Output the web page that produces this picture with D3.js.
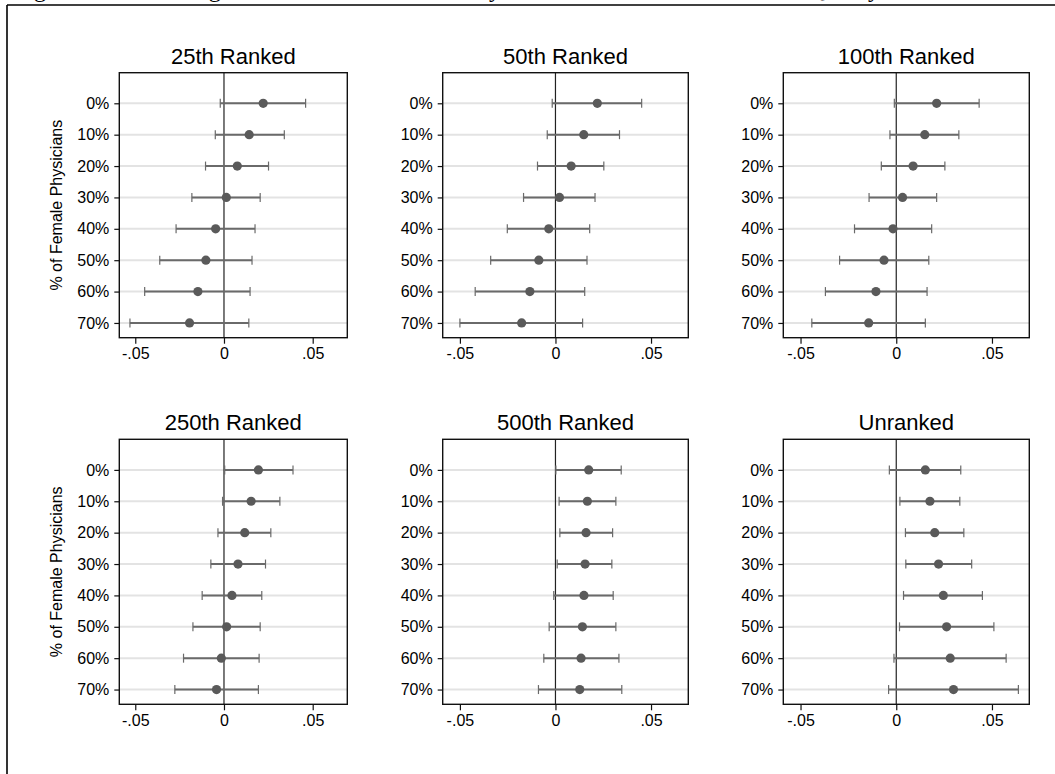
<!DOCTYPE html>
<html>
<head>
<meta charset="utf-8">
<script src="https://cdn.jsdelivr.net/npm/d3@7"></script>
<style>
html,body{margin:0;padding:0;background:#fff;}
svg{display:block;}
</style>
</head>
<body>
<svg id="chart" width="1055" height="774"></svg>
<script>
// ---- data ----
const categories = ["0%", "10%", "20%", "30%", "40%", "50%", "60%", "70%"];
const panelTitles = ["25th Ranked", "50th Ranked", "100th Ranked", "250th Ranked", "500th Ranked", "Unranked"];
const xTickValues = [-0.05, 0, 0.05];
const xTickLabels = ["-.05", "0", ".05"];
const yAxisTitle = "% of Female Physicians";

const est25  = [0.0221, 0.0142, 0.0075, 0.0013, -0.0047, -0.0102, -0.0147, -0.0194];
const lo25   = [-0.0021, -0.0049, -0.0104, -0.0181, -0.0270, -0.0362, -0.0447, -0.0530];
const hi25   = [0.0460, 0.0340, 0.0251, 0.0204, 0.0175, 0.0158, 0.0147, 0.0140];

const est50  = [0.0219, 0.0148, 0.0082, 0.0021, -0.0035, -0.0087, -0.0134, -0.0177];
const lo50   = [-0.0017, -0.0043, -0.0094, -0.0167, -0.0252, -0.0339, -0.0420, -0.0500];
const hi50   = [0.0451, 0.0335, 0.0253, 0.0207, 0.0179, 0.0165, 0.0153, 0.0142];

const est100 = [0.0211, 0.0149, 0.0088, 0.0033, -0.0017, -0.0064, -0.0106, -0.0144];
const lo100  = [-0.0010, -0.0033, -0.0078, -0.0142, -0.0218, -0.0296, -0.0370, -0.0441];
const hi100  = [0.0433, 0.0327, 0.0254, 0.0211, 0.0185, 0.0170, 0.0161, 0.0152];

const est250 = [0.0194, 0.0153, 0.0117, 0.0079, 0.0045, 0.0015, -0.0015, -0.0042];
const lo250  = [0.0004, -0.0008, -0.0034, -0.0074, -0.0123, -0.0175, -0.0228, -0.0277];
const hi250  = [0.0389, 0.0315, 0.0264, 0.0234, 0.0213, 0.0204, 0.0198, 0.0194];

const est500 = [0.0174, 0.0167, 0.0160, 0.0155, 0.0149, 0.0141, 0.0134, 0.0127];
const lo500  = [0.0002, 0.0019, 0.0023, 0.0009, -0.0009, -0.0033, -0.0061, -0.0089];
const hi500  = [0.0344, 0.0316, 0.0299, 0.0295, 0.0302, 0.0316, 0.0332, 0.0347];

const estUnr = [0.0152, 0.0176, 0.0201, 0.0221, 0.0246, 0.0263, 0.0282, 0.0299];
const loUnr  = [-0.0036, 0.0019, 0.0048, 0.0050, 0.0038, 0.0017, -0.0012, -0.0040];
const hiUnr  = [0.0337, 0.0332, 0.0353, 0.0394, 0.0450, 0.0510, 0.0574, 0.0638];

const panelData = [
  [est25, lo25, hi25], [est50, lo50, hi50], [est100, lo100, hi100],
  [est250, lo250, hi250], [est500, lo500, hi500], [estUnr, loUnr, hiUnr]
];

// ---- layout ----
const svg = d3.select("#chart");
const colX = [[119.3, 347.3], [442.7, 688.3], [783.3, 1029.3]];
const rowY = [[72.7, 337.7], [439.3, 704.3]];
const font = "'Liberation Sans', Arial, Helvetica, sans-serif";

// outer frame (partially visible)
svg.append("line").attr("x1", 7).attr("x2", 1055).attr("y1", 5).attr("y2", 5)
  .attr("stroke", "#000").attr("stroke-width", 1.6);
svg.append("line").attr("x1", 7).attr("x2", 7).attr("y1", 5).attr("y2", 774)
  .attr("stroke", "#000").attr("stroke-width", 1.6);

// caption cut off at top (only descenders visible)
const captionParts = [["Figure 2.", 14], ["Change", 158], ["by", 477], ["Quality", 808]];
captionParts.forEach(([t, x]) => {
  svg.append("text").attr("x", x).attr("y", -3)
    .attr("font-family", "'Liberation Serif', 'Times New Roman', serif")
    .attr("font-size", 24).attr("fill", "#000").text(t);
});

panelData.forEach((pd, p) => {
  const [est, lo, hi] = pd;
  const c = p % 3, r = Math.floor(p / 3);
  const [x0, x1] = colX[c];
  const [y0, y1] = rowY[r];
  const x = d3.scaleLinear().domain([-0.059, 0.0695]).range([x0, x1]);
  const y = d3.scaleLinear().domain([-0.975, 7.47]).range([y0, y1]);
  const g = svg.append("g");

  // gridlines
  g.selectAll(".grid").data(categories).join("line")
    .attr("x1", x0).attr("x2", x1)
    .attr("y1", (d, i) => y(i)).attr("y2", (d, i) => y(i))
    .attr("stroke", "#e3e3e3").attr("stroke-width", 2);

  // zero line
  g.append("line").attr("x1", x(0)).attr("x2", x(0)).attr("y1", y0).attr("y2", y1)
    .attr("stroke", "#222").attr("stroke-width", 1.2);

  // error bars
  const idx = d3.range(categories.length);
  g.selectAll(".bar").data(idx).join("line")
    .attr("x1", i => x(lo[i])).attr("x2", i => x(hi[i]))
    .attr("y1", i => y(i)).attr("y2", i => y(i))
    .attr("stroke", "#6a6a6a").attr("stroke-width", 2);
  ["lo", "hi"].forEach(k => {
    const arr = k === "lo" ? lo : hi;
    g.selectAll(".cap" + k).data(idx).join("line")
      .attr("x1", i => x(arr[i])).attr("x2", i => x(arr[i]))
      .attr("y1", i => y(i) - 4.5).attr("y2", i => y(i) + 4.5)
      .attr("stroke", "#6a6a6a").attr("stroke-width", 1.2);
  });
  g.selectAll(".pt").data(idx).join("circle")
    .attr("cx", i => x(est[i])).attr("cy", i => y(i)).attr("r", 4.6)
    .attr("fill", "#5a5a5a");

  // frame
  g.append("rect").attr("x", x0).attr("y", y0).attr("width", x1 - x0).attr("height", y1 - y0)
    .attr("fill", "none").attr("stroke", "#111").attr("stroke-width", 1.4);

  // x axis
  const xAxis = d3.axisBottom(x).tickValues(xTickValues)
    .tickFormat((d, i) => xTickLabels[i]).tickSize(6).tickPadding(4);
  const xa = g.append("g").attr("transform", `translate(0,${y1})`).call(xAxis);
  xa.select(".domain").remove();
  xa.selectAll(".tick line").attr("stroke", "#111").attr("stroke-width", 1.2);
  xa.selectAll(".tick text").attr("font-family", font).attr("font-size", 16).attr("fill", "#000");

  // y axis
  const yAxis = d3.axisLeft(y).tickValues(d3.range(categories.length))
    .tickFormat(i => categories[i]).tickSize(5).tickPadding(5);
  const ya = g.append("g").attr("transform", `translate(${x0},0)`).call(yAxis);
  ya.select(".domain").remove();
  ya.selectAll(".tick line").attr("stroke", "#111").attr("stroke-width", 1.2);
  ya.selectAll(".tick text").attr("font-family", font).attr("font-size", 16).attr("fill", "#000");

  // title
  g.append("text").attr("x", (x0 + x1) / 2).attr("y", y0 - 9)
    .attr("text-anchor", "middle").attr("font-family", font).attr("font-size", 22)
    .attr("fill", "#000").text(panelTitles[p]);

  if (c === 0) {
    g.append("text")
      .attr("transform", `translate(62,${(y0 + y1) / 2}) rotate(-90)`)
      .attr("text-anchor", "middle").attr("font-family", font).attr("font-size", 16)
      .attr("fill", "#000").text(yAxisTitle);
  }
});
</script>
</body>
</html>
